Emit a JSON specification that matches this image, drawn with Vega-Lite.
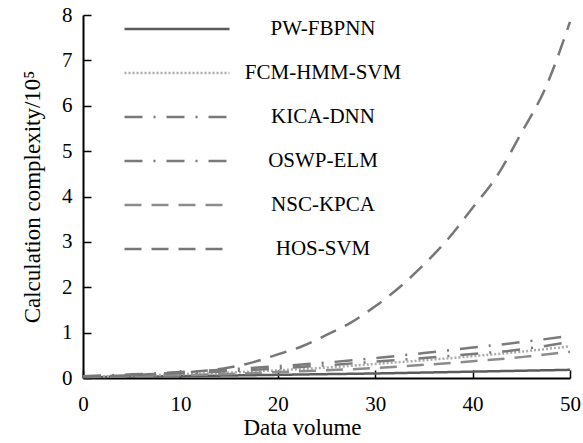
{
  "$schema": "https://vega.github.io/schema/vega-lite/v6.json",
  "autosize": {"type": "none"},
  "width": 487,
  "height": 363,
  "padding": {"left": 83, "top": 15, "right": 13, "bottom": 65},
  "background": "white",
  "config": {
    "view": {"stroke": null},
    "font": "Times New Roman, Liberation Serif, serif"
  },
  "data": {
    "values": [
      {"method": "PW-FBPNN", "x": 0, "y": 0.02}, {"method": "PW-FBPNN", "x": 5, "y": 0.03}, {"method": "PW-FBPNN", "x": 10, "y": 0.04}, {"method": "PW-FBPNN", "x": 15, "y": 0.055}, {"method": "PW-FBPNN", "x": 20, "y": 0.07}, {"method": "PW-FBPNN", "x": 25, "y": 0.085}, {"method": "PW-FBPNN", "x": 30, "y": 0.1}, {"method": "PW-FBPNN", "x": 35, "y": 0.12}, {"method": "PW-FBPNN", "x": 40, "y": 0.14}, {"method": "PW-FBPNN", "x": 45, "y": 0.16}, {"method": "PW-FBPNN", "x": 50, "y": 0.18},
      {"method": "FCM-HMM-SVM", "x": 0, "y": 0.03}, {"method": "FCM-HMM-SVM", "x": 5, "y": 0.05}, {"method": "FCM-HMM-SVM", "x": 10, "y": 0.08}, {"method": "FCM-HMM-SVM", "x": 15, "y": 0.12}, {"method": "FCM-HMM-SVM", "x": 20, "y": 0.17}, {"method": "FCM-HMM-SVM", "x": 25, "y": 0.23}, {"method": "FCM-HMM-SVM", "x": 30, "y": 0.31}, {"method": "FCM-HMM-SVM", "x": 35, "y": 0.39}, {"method": "FCM-HMM-SVM", "x": 40, "y": 0.48}, {"method": "FCM-HMM-SVM", "x": 45, "y": 0.58}, {"method": "FCM-HMM-SVM", "x": 50, "y": 0.7},
      {"method": "KICA-DNN", "x": 0, "y": 0.04}, {"method": "KICA-DNN", "x": 5, "y": 0.08}, {"method": "KICA-DNN", "x": 10, "y": 0.13}, {"method": "KICA-DNN", "x": 15, "y": 0.19}, {"method": "KICA-DNN", "x": 20, "y": 0.26}, {"method": "KICA-DNN", "x": 25, "y": 0.34}, {"method": "KICA-DNN", "x": 30, "y": 0.44}, {"method": "KICA-DNN", "x": 35, "y": 0.55}, {"method": "KICA-DNN", "x": 40, "y": 0.67}, {"method": "KICA-DNN", "x": 45, "y": 0.79}, {"method": "KICA-DNN", "x": 50, "y": 0.93},
      {"method": "OSWP-ELM", "x": 0, "y": 0.03}, {"method": "OSWP-ELM", "x": 5, "y": 0.06}, {"method": "OSWP-ELM", "x": 10, "y": 0.1}, {"method": "OSWP-ELM", "x": 15, "y": 0.15}, {"method": "OSWP-ELM", "x": 20, "y": 0.21}, {"method": "OSWP-ELM", "x": 25, "y": 0.28}, {"method": "OSWP-ELM", "x": 30, "y": 0.36}, {"method": "OSWP-ELM", "x": 35, "y": 0.44}, {"method": "OSWP-ELM", "x": 40, "y": 0.53}, {"method": "OSWP-ELM", "x": 45, "y": 0.63}, {"method": "OSWP-ELM", "x": 50, "y": 0.8},
      {"method": "NSC-KPCA", "x": 0, "y": 0.02}, {"method": "NSC-KPCA", "x": 5, "y": 0.04}, {"method": "NSC-KPCA", "x": 10, "y": 0.06}, {"method": "NSC-KPCA", "x": 15, "y": 0.09}, {"method": "NSC-KPCA", "x": 20, "y": 0.13}, {"method": "NSC-KPCA", "x": 25, "y": 0.17}, {"method": "NSC-KPCA", "x": 30, "y": 0.22}, {"method": "NSC-KPCA", "x": 35, "y": 0.29}, {"method": "NSC-KPCA", "x": 40, "y": 0.37}, {"method": "NSC-KPCA", "x": 45, "y": 0.46}, {"method": "NSC-KPCA", "x": 50, "y": 0.58},
      {"method": "HOS-SVM", "x": 0, "y": 0.03}, {"method": "HOS-SVM", "x": 2.5, "y": 0.04}, {"method": "HOS-SVM", "x": 5, "y": 0.06}, {"method": "HOS-SVM", "x": 7.5, "y": 0.09}, {"method": "HOS-SVM", "x": 10, "y": 0.12}, {"method": "HOS-SVM", "x": 12.5, "y": 0.16}, {"method": "HOS-SVM", "x": 15, "y": 0.23}, {"method": "HOS-SVM", "x": 17.5, "y": 0.35}, {"method": "HOS-SVM", "x": 20, "y": 0.52}, {"method": "HOS-SVM", "x": 22.5, "y": 0.7}, {"method": "HOS-SVM", "x": 25, "y": 0.95}, {"method": "HOS-SVM", "x": 27.5, "y": 1.22}, {"method": "HOS-SVM", "x": 30, "y": 1.58}, {"method": "HOS-SVM", "x": 32.5, "y": 2.0}, {"method": "HOS-SVM", "x": 35, "y": 2.5}, {"method": "HOS-SVM", "x": 37.5, "y": 3.07}, {"method": "HOS-SVM", "x": 40, "y": 3.75}, {"method": "HOS-SVM", "x": 42.5, "y": 4.45}, {"method": "HOS-SVM", "x": 45, "y": 5.4}, {"method": "HOS-SVM", "x": 47.5, "y": 6.4}, {"method": "HOS-SVM", "x": 50, "y": 7.85}
    ]
  },
  "mark": {"type": "line", "interpolate": "monotone", "strokeWidth": 2.5},
  "encoding": {
    "x": {
      "field": "x", "type": "quantitative",
      "scale": {"domain": [0, 50], "nice": false},
      "axis": {
        "title": "Data volume", "titleFontSize": 23, "titleFontWeight": "normal", "titleColor": "black", "titlePadding": 2, "titleX": 219,
        "values": [0, 10, 20, 30, 40, 50], "labelFontSize": 21, "labelColor": "black", "labelPadding": 23,
        "tickSize": -8, "tickColor": "black", "tickWidth": 1.5, "domainColor": "black", "domainWidth": 2, "grid": false, "labelFlush": false
      }
    },
    "y": {
      "field": "y", "type": "quantitative",
      "scale": {"domain": [0, 8], "nice": false},
      "axis": {
        "title": "Calculation complexity/10⁵", "titleFontSize": 23, "titleFontWeight": "normal", "titleColor": "black", "titlePadding": 17,
        "values": [0, 1, 2, 3, 4, 5, 6, 7, 8], "labelFontSize": 21, "labelColor": "black", "labelPadding": 19,
        "tickSize": -8, "tickColor": "black", "tickWidth": 1.5, "domainColor": "black", "domainWidth": 2, "grid": false, "labelFlush": false
      }
    },
    "color": {
      "field": "method", "type": "nominal",
      "scale": {
        "domain": ["PW-FBPNN", "FCM-HMM-SVM", "KICA-DNN", "OSWP-ELM", "NSC-KPCA", "HOS-SVM"],
        "range": ["#5c5c5c", "#ababab", "#7a7a7a", "#7a7a7a", "#8c8c8c", "#777777"]
      },
      "legend": {
        "title": null, "orient": "none", "legendX": 75, "legendY": -5,
        "symbolType": "M-3,0H3", "symbolSize": 1225, "symbolStrokeWidth": 2.5,
        "labelFontSize": 21, "labelColor": "black",
        "labelAlign": "center", "labelOffset": 127, "rowPadding": 15
      }
    },
    "strokeDash": {
      "field": "method", "type": "nominal",
      "scale": {
        "domain": ["PW-FBPNN", "FCM-HMM-SVM", "KICA-DNN", "OSWP-ELM", "NSC-KPCA", "HOS-SVM"],
        "range": [[1, 0], [2, 2], [18, 11, 2, 11], [18, 11, 2, 11], [17, 10], [17, 10]]
      },
      "legend": null
    }
  }
}
